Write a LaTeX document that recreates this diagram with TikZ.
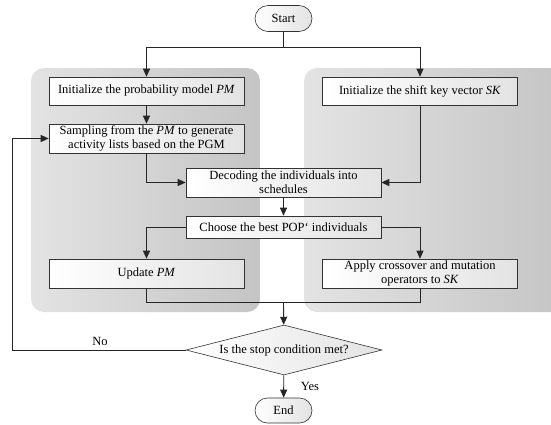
\documentclass[tikz,border=0pt]{standalone}
\usepackage{fontspec}
\setmainfont{Liberation Serif}
\usetikzlibrary{arrows.meta,shapes.geometric,shapes.misc}
\pgfdeclarehorizontalshading{panelsh}{100bp}{color(0bp)=(black!11); color(25bp)=(black!11); color(75bp)=(black!23); color(100bp)=(black!23)}
\pgfdeclarehorizontalshading{boxsh}{100bp}{color(0bp)=(white); color(25bp)=(white); color(75bp)=(black!11); color(100bp)=(black!11)}
\begin{document}
\begin{tikzpicture}[x=1pt,y=-1pt,
  every node/.style={font=\fontsize{12.5}{14}\selectfont},
  box/.style={draw=black!80, line width=0.6pt, shade, shading=boxsh,
    minimum width=195pt, minimum height=28pt, inner sep=1pt, align=center},
  term/.style={draw=black!80, line width=0.6pt, shade, shading=boxsh,
    rounded rectangle, minimum width=59pt, minimum height=26pt, inner sep=1pt},
  dec/.style={draw=black!80, line width=0.6pt, shade, shading=boxsh,
    diamond, aspect=3.9, minimum width=196pt, minimum height=50pt, inner sep=0pt},
  panel/.style={shading=panelsh, rounded corners=13pt},
  conn/.style={draw=black!85, line width=0.9pt},
  arr/.style={conn, -{Triangle[length=8pt,width=7pt]}}
]
\useasboundingbox (0,0) rectangle (551,424);
\begin{scope}
\clip (0,0) rectangle (551,424);
\shade[panel] (31,68) rectangle (260,312);
\shade[panel] (304,68) rectangle (566,312);
\end{scope}

\node[term] (start) at (283.5,18.5) {Start};
\node[box] (initPM) at (146.5,91) {Initialize the probability model \textit{PM}};
\node[box] (initSK) at (420,91) {Initialize the shift key vector \textit{SK}};
\node[box, minimum height=29pt] (sample) at (146.5,138.5) {Sampling from the \textit{PM} to generate\\activity lists based on the PGM};
\node[box, minimum height=29pt] (decode) at (283.5,182.5) {Decoding the individuals into\\schedules};
\node[box, minimum height=22pt] (choose) at (283.5,227) {Choose the best POP‘ individuals};
\node[box, minimum height=29pt] (update) at (146.5,273.5) {Update \textit{PM}};
\node[box, minimum height=29pt] (apply) at (420,273.5) {Apply crossover and mutation\\operators to \textit{SK}};
\node[dec] (cond) at (284,350) {Is the stop condition met?};
\node[term, minimum height=25pt] (end) at (283.5,410.5) {End};

\coordinate (j1) at (283.5,47);
\coordinate (j2) at (283.5,302);
\coordinate (lp) at (12,350);

\draw[conn] (start) -- (j1);
\draw[arr] (j1) -| (initPM);
\draw[arr] (j1) -| (initSK);
\draw[arr] (initPM) -- (sample);
\draw[arr] (sample) |- (decode);
\draw[arr] (initSK) |- (decode);
\draw[arr] (decode) -- (choose);
\draw[arr] (choose) -| (update);
\draw[arr] (choose) -| (apply);
\draw[conn] (update) |- (j2);
\draw[conn] (apply) |- (j2);
\draw[arr] (j2) -- (cond);
\draw[arr] (cond) -- (lp) |- (sample);
\draw[arr] (cond) -- (end);
\node (no) at (100,341) {No};
\node (yes) at (310,386) {Yes};
\end{tikzpicture}
\end{document}
